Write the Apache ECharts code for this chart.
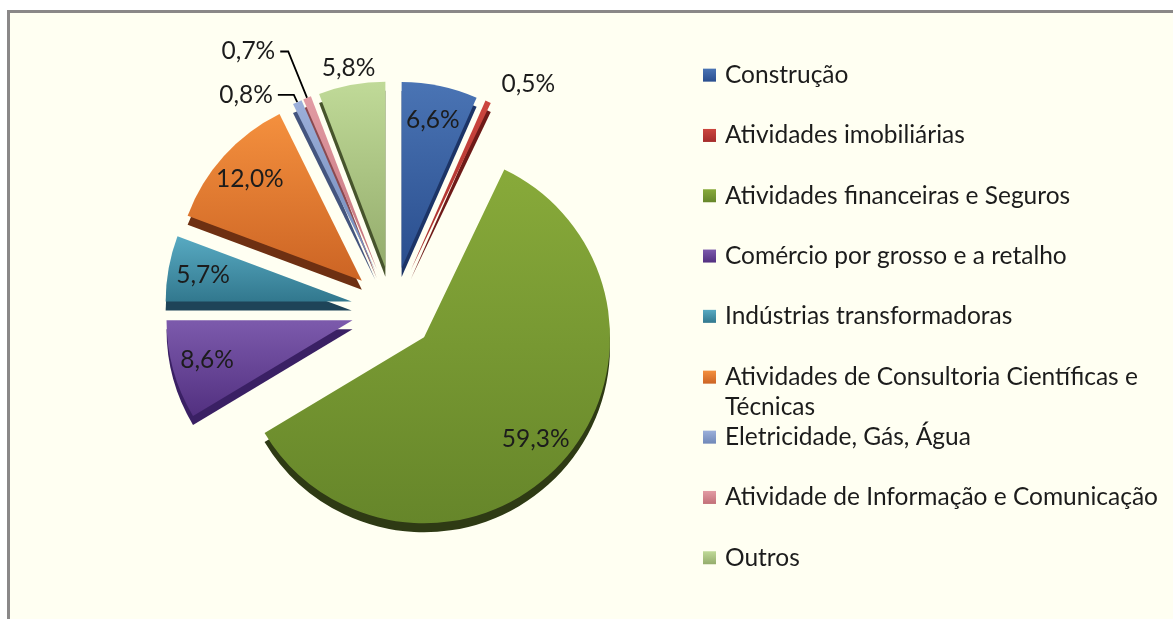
<!DOCTYPE html>
<html>
<head>
<meta charset="utf-8">
<script src="https://cdn.jsdelivr.net/npm/echarts@6/dist/echarts.min.js"></script>
<style>
  html, body { margin: 0; padding: 0; background: #ffffff; }
  #frame {
    position: absolute; left: 7px; top: 10px; width: 1300px; height: 800px;
    background: #fffff2; border-left: 3px solid #8a8888; border-top: 3px solid #8a8888;
  }
  #chart { position: absolute; left: 0; top: 0; width: 1173px; height: 619px; }
</style>
</head>
<body>
<div id="frame"></div>
<div id="chart"></div>
<script>
// dados (percentagens por setor)
const sectors = [
  'Construção',
  'Atividades imobiliárias',
  'Atividades financeiras e Seguros',
  'Comércio por grosso e a retalho',
  'Indústrias transformadoras',
  'Atividades de Consultoria Científicas e Técnicas',
  'Eletricidade, Gás, Água',
  'Atividade de Informação e Comunicação',
  'Outros'
]
const shares = [6.6, 0.5, 59.3, 8.6, 5.7, 12.0, 0.8, 0.7, 5.8]

// cores (topo / base do gradiente / lateral 3D)
const topColors = ['#4a74b4', '#cc463e', '#88aa3a', '#7c5aac', '#58aac2', '#f4903e', '#9cb0da', '#e29ca4', '#c0da98']
const bottomColors = ['#2a4e8e', '#a42c2a', '#66862a', '#523080', '#32788e', '#cc6424', '#7088b8', '#c27078', '#94ac6c']
const sideColors = ['#1c3466', '#6e1a18', '#2e3a14', '#3a2064', '#1e4458', '#6e3012', '#44557e', '#8a4a50', '#46542c']

const font = 'Lato, "Open Sans", sans-serif'
const textColor = '#1c1c1c'
const fontSize = 24.5
const center = [393, 309]
const radius = 186
const explode = 42

const pct = (v) => v.toFixed(1).replace('.', ',') + '%'

// rótulos dentro das fatias
const innerLabels = ['Construção', 'Atividades financeiras e Seguros', 'Comércio por grosso e a retalho',
  'Indústrias transformadoras', 'Atividades de Consultoria Científicas e Técnicas']

// rótulos exteriores (com ou sem linha de ligação)
const outerLabels = {
  'Atividades imobiliárias': { length: 20, length2: 0, line: false },
  'Eletricidade, Gás, Água': { length: 8, length2: 16, line: true },
  'Atividade de Informação e Comunicação': { length: 50, length2: 8, line: true }
}

const grad = (i) => new echarts.graphic.LinearGradient(0, 0, 0, 1, [
  { offset: 0, color: topColors[i] },
  { offset: 1, color: bottomColors[i] }
])

const labelText = { fontFamily: font, fontSize, color: textColor }

const mainData = sectors.map((name, i) => {
  const o = outerLabels[name]
  const item = {
    name,
    value: shares[i],
    selected: true,
    itemStyle: { color: grad(i) },
    label: { show: !!o },
    labelLine: { show: false }
  }
  if (o) {
    item.labelLine = { show: o.line, length: o.length, length2: o.length2, lineStyle: { color: '#000', width: 1.8 } }
  }
  return item
})

const sideData = sectors.map((name, i) => ({
  name, value: shares[i], selected: true, itemStyle: { color: sideColors[i] }
}))

const innerData = sectors.map((name, i) => ({
  name, value: shares[i], selected: true, label: { show: innerLabels.includes(name) }
}))

const ringData = sectors.map((name, i) => ({
  name, value: shares[i], selected: true, label: { show: name === 'Outros' }
}))

const baseSeries = {
  type: 'pie',
  startAngle: 90,
  clockwise: true,
  selectedMode: 'multiple',
  selectedOffset: explode,
  avoidLabelOverlap: false,
  emphasis: { disabled: true },
  animation: false
}

const legendBase = {
  orient: 'vertical',
  left: 703,
  padding: 0,
  itemGap: 0,
  icon: 'rect',
  itemWidth: 13,
  itemHeight: 13,
  selectedMode: false,
  formatter: (name) => name === sectors[5]
    ? '{a|Atividades de Consultoria Científicas e}\n{b|Técnicas}'
    : name,
  textStyle: {
    fontFamily: font,
    fontSize,
    color: textColor,
    lineHeight: 60.3,
    padding: [0, 0, 0, 4],
    rich: {
      a: { fontFamily: font, fontSize, color: textColor, lineHeight: 60.3 },
      b: { fontFamily: font, fontSize, color: textColor, lineHeight: 1 }
    }
  }
}

const chart = echarts.init(document.getElementById('chart'))

chart.setOption({
  backgroundColor: 'transparent',
  legend: [
    { ...legendBase, top: 45, data: sectors.slice(0, 6) },
    { ...legendBase, top: 407, data: sectors.slice(6) }
  ],
  series: [
    {
      ...baseSeries,
      name: 'main',
      z: 3,
      center,
      radius,
      label: { position: 'outside', formatter: (p) => pct(p.value), ...labelText },
      data: mainData
    },
    {
      ...baseSeries,
      name: 'side',
      z: 2,
      silent: true,
      center: [center[0], center[1] + 9],
      radius,
      label: { show: false },
      labelLine: { show: false },
      data: sideData
    },
    {
      ...baseSeries,
      name: 'innerLabels',
      z: 4,
      silent: true,
      center,
      radius: [0, 296],
      itemStyle: { color: 'rgba(0,0,0,0)' },
      label: { position: 'inside', formatter: (p) => pct(p.value), ...labelText },
      labelLine: { show: false },
      data: innerData
    },
    {
      ...baseSeries,
      name: 'ringLabels',
      z: 4,
      silent: true,
      center,
      radius: [radius, radius + 28],
      itemStyle: { color: 'rgba(0,0,0,0)' },
      label: { position: 'inside', formatter: (p) => pct(p.value), ...labelText },
      labelLine: { show: false },
      data: ringData
    }
  ]
})
</script>
</body>
</html>
